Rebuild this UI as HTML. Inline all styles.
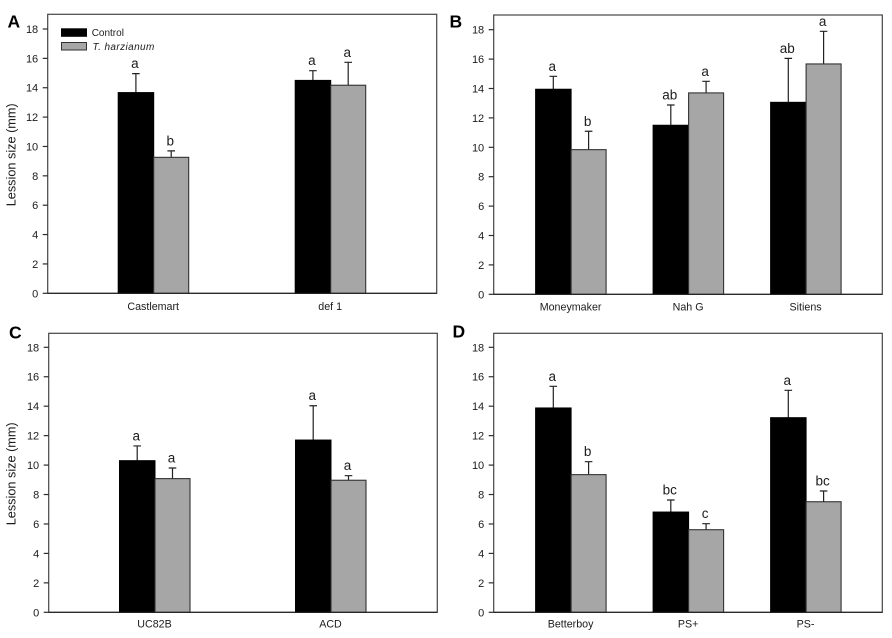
<!DOCTYPE html>
<html>
<head>
<meta charset="utf-8">
<title>Lesion size panels</title>
<style>
html,body{margin:0;padding:0;background:#fff;}
svg{display:block;}
text{font-family:"Liberation Sans",Arial,sans-serif;fill:#1c1c1c;}
</style>
</head>
<body>
<svg id="chart" width="892" height="638" viewBox="0 0 892 638" xmlns="http://www.w3.org/2000/svg">
<defs><filter id="soft" x="-2%" y="-2%" width="104%" height="104%"><feGaussianBlur stdDeviation="0.3"/></filter></defs>
<g id="root" filter="url(#soft)"></g>
</svg>
<script>
const yTicks = [0, 2, 4, 6, 8, 10, 12, 14, 16, 18];

const categoriesA = ["Castlemart", "def 1"];
const controlA = [13.67, 14.5];
const controlErrA = [1.29, 0.66];
const treatedA = [9.26, 14.17];
const treatedErrA = [0.44, 1.56];
const controlLettersA = ["a", "a"];
const treatedLettersA = ["b", "a"];

const categoriesB = ["Moneymaker", "Nah G", "Sitiens"];
const controlB = [13.95, 11.5, 13.06];
const controlErrB = [0.88, 1.38, 2.99];
const treatedB = [9.84, 13.7, 15.67];
const treatedErrB = [1.25, 0.79, 2.22];
const controlLettersB = ["a", "ab", "ab"];
const treatedLettersB = ["b", "a", "a"];

const categoriesC = ["UC82B", "ACD"];
const controlC = [10.3, 11.7];
const controlErrC = [1.0, 2.33];
const treatedC = [9.08, 8.97];
const treatedErrC = [0.72, 0.31];
const controlLettersC = ["a", "a"];
const treatedLettersC = ["a", "a"];

const categoriesD = ["Betterboy", "PS+", "PS-"];
const controlD = [13.88, 6.81, 13.22];
const controlErrD = [1.47, 0.82, 1.86];
const treatedD = [9.35, 5.61, 7.51];
const treatedErrD = [0.88, 0.41, 0.73];
const controlLettersD = ["a", "bc", "a"];
const treatedLettersD = ["b", "c", "bc"];

const seriesNames = ["Control", "T. harzianum"];

const NS = "http://www.w3.org/2000/svg";
const root = document.getElementById("root");
const DARK = "#2e2e2e";

function make(tag, attrs, parent, txt) {
  const el = document.createElementNS(NS, tag);
  for (const k in attrs) el.setAttribute(k, attrs[k]);
  if (txt !== undefined) el.textContent = txt;
  parent.appendChild(el);
  return el;
}

function drawPanel(p) {
  const g = make("g", {}, root);
  
  

  const y = v => p.y0 - (v / 18) * (p.y0 - p.y18);
  const n = p.categories.length;
  const x = i => p.center + (i - (n - 1) / 2) * p.step;

  const frame = make("rect", {x: p.left, y: p.top, width: p.right - p.left, height: p.y0 - p.top, fill: "#fff", stroke: "#444", "stroke-width": 1.2}, g);
  
  

  yTicks.forEach(t => {
    const tick = make("line", {x1: p.left - 5, x2: p.left, y1: y(t), y2: y(t), stroke: DARK, "stroke-width": 1.2}, g);
    
    
    const lab = make("text", {x: p.left - 9.5, y: y(t) + 4, "text-anchor": "end", "font-size": 11}, g, String(t));
    
    
  });

  p.categories.forEach((c, i) => {
    const cx = x(i);
    const cTop = y(p.control[i]);
    const tTop = y(p.treated[i]);
    const cMid = cx - 17.8;
    const tMid = cx + 17.5;

    const cErrY = y(p.control[i] + p.controlErr[i]);
    const ce = make("path", {d: "M" + cMid + " " + cTop + "V" + cErrY + "M" + (cMid - 3.8) + " " + cErrY + "H" + (cMid + 3.8), stroke: "#222", "stroke-width": 1.2, fill: "none"}, g);
    
    
    const tErrY = y(p.treated[i] + p.treatedErr[i]);
    const te = make("path", {d: "M" + tMid + " " + tTop + "V" + tErrY + "M" + (tMid - 3.8) + " " + tErrY + "H" + (tMid + 3.8), stroke: "#222", "stroke-width": 1.2, fill: "none"}, g);
    
    

    const cb = make("rect", {x: cx - 35.5, y: cTop, width: 35.5, height: p.y0 - cTop, fill: "#000", stroke: "#000", "stroke-width": 1}, g);
    
    
    const tb = make("rect", {x: cx, y: tTop, width: 35, height: p.y0 - tTop, fill: "#a6a6a6", stroke: "#333", "stroke-width": 1.1}, g);
    
    

    const cl = make("text", {x: cMid - 1, y: cErrY - 5.5, "text-anchor": "middle", "font-size": 13.5}, g, p.controlLetters[i]);
    
    
    const tl = make("text", {x: tMid - 1, y: tErrY - 5.5, "text-anchor": "middle", "font-size": 13.5}, g, p.treatedLetters[i]);
    
    

    const xl = make("text", {x: cx - 0.5, y: p.catY, "text-anchor": "middle", "font-size": 10.7}, g, c);
    
    
  });

  const axis = make("line", {x1: p.left, x2: p.right, y1: p.y0, y2: p.y0, stroke: "#222", "stroke-width": 1.2}, g);
  
  

  const letter = make("text", {x: p.letterX, y: p.letterY, "font-size": 17.5, "font-weight": "bold"}, g, p.id);
  
  
  letter.style.fill = "#000";

  if (p.yTitle) {
    const cy = (p.y0 + p.top) / 2 + 1;
    const title = make("text", {transform: "translate(15.5 " + cy + ") rotate(-90)", "text-anchor": "middle", "font-size": 12.7}, g, "Lession size (mm)");
    
    
  }
}

drawPanel({id: "A", categories: categoriesA, control: controlA, controlErr: controlErrA, treated: treatedA, treatedErr: treatedErrA, controlLetters: controlLettersA, treatedLetters: treatedLettersA,
  left: 47.7, right: 436.7, top: 14.3, y0: 293.3, y18: 29, center: 242.2, step: 177, catY: 310, letterX: 7.5, letterY: 27.7, yTitle: true});
drawPanel({id: "B", categories: categoriesB, control: controlB, controlErr: controlErrB, treated: treatedB, treatedErr: treatedErrB, controlLetters: controlLettersB, treatedLetters: treatedLettersB,
  left: 493.7, right: 882.3, top: 15, y0: 294.3, y18: 29.7, center: 688.6, step: 117.5, catY: 310.7, letterX: 449.5, letterY: 27.3, yTitle: false});
drawPanel({id: "C", categories: categoriesC, control: controlC, controlErr: controlErrC, treated: treatedC, treatedErr: treatedErrC, controlLetters: controlLettersC, treatedLetters: treatedLettersC,
  left: 48.7, right: 437.3, top: 333.3, y0: 612.3, y18: 347.3, center: 243, step: 176, catY: 627.7, letterX: 9, letterY: 338.3, yTitle: true});
drawPanel({id: "D", categories: categoriesD, control: controlD, controlErr: controlErrD, treated: treatedD, treatedErr: treatedErrD, controlLetters: controlLettersD, treatedLetters: treatedLettersD,
  left: 493.7, right: 882.3, top: 333.3, y0: 612.3, y18: 347.3, center: 688.6, step: 117.5, catY: 627.7, letterX: 452.5, letterY: 337.3, yTitle: false});

const legend = make("g", {}, root);


const swatch1 = make("rect", {x: 61.5, y: 28.8, width: 25, height: 7.5, fill: "#000", stroke: "#000", "stroke-width": 1}, legend);


const swatch2 = make("rect", {x: 61.5, y: 42.5, width: 25, height: 7.5, fill: "#a6a6a6", stroke: "#333", "stroke-width": 1}, legend);


const label1 = make("text", {x: 91.7, y: 36, "font-size": 10}, legend, seriesNames[0]);


const label2 = make("text", {x: 92.5, y: 50, "font-size": 10, "font-style": "italic", "letter-spacing": 0.4}, legend, seriesNames[1]);


</script>
</body>
</html>
